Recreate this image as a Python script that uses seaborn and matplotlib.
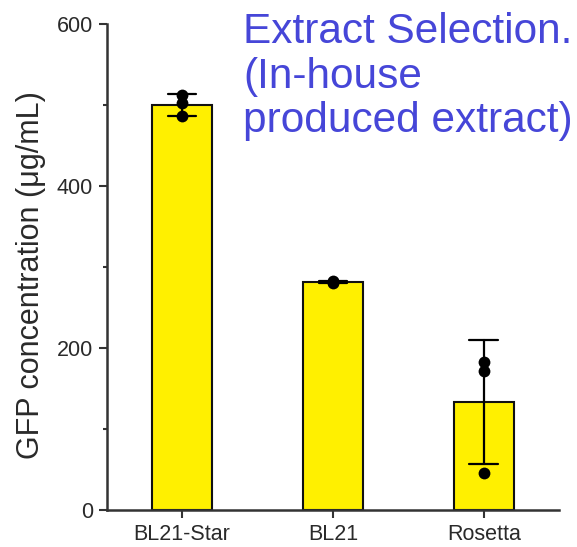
import matplotlib
matplotlib.use("Agg")
import matplotlib.pyplot as plt
from matplotlib.ticker import MultipleLocator
import numpy as np
import pandas as pd
import seaborn as sns

# Replicate GFP measurements per extract strain (µg/mL)
strains = ["BL21-Star", "BL21", "Rosetta"]
bl21_star = [512, 486, 502]
bl21 = [283, 280, 282]
rosetta = [182, 172, 45]

df = pd.DataFrame({
    "strain": np.repeat(strains, 3),
    "gfp": bl21_star + bl21 + rosetta,
})

sns.set_theme(style="ticks")
plt.rcParams["font.family"] = ["Liberation Sans", "DejaVu Sans"]

fig = plt.figure(figsize=(5.77, 5.47), dpi=100)
ax = fig.add_axes([0.185, 0.068, 0.784, 0.888])

sns.barplot(data=df, x="strain", y="gfp", order=strains, errorbar="sd",
            width=0.4, color="#FFF000", edgecolor="#111111", linewidth=1.5,
            capsize=0.19, err_kws={"color": "black", "linewidth": 1.6},
            saturation=1, ax=ax)
sns.stripplot(data=df, x="strain", y="gfp", order=strains, jitter=False,
              color="black", size=8.5, ax=ax, zorder=5)

ax.set_xlim(-0.5, 2.5)
ax.set_ylim(0, 600)
ax.yaxis.set_major_locator(MultipleLocator(200))
ax.yaxis.set_minor_locator(MultipleLocator(100))
for s in ["top", "right"]:
    ax.spines[s].set_visible(False)
for s in ["left", "bottom"]:
    ax.spines[s].set_linewidth(1.8)
    ax.spines[s].set_color("#333333")
ax.tick_params(axis="both", which="major", length=6, width=1.5,
               color="#333333", labelsize=15.5, labelcolor="#2a2a2a", pad=4)
ax.tick_params(axis="y", which="minor", length=3, width=1.5, color="#333333")
ax.set_xlabel("")
ax.set_ylabel("GFP concentration (\u03bcg/mL)", fontsize=22, color="#2a2a2a")
ax.yaxis.set_label_coords(-0.135, 0.484)

fig.text(0.421, 0.978, "Extract Selection.\n(In-house\nproduced extract)",
         ha="left", va="top", fontsize=30.5, color="#4646D8",
         linespacing=1.15, family=["Liberation Sans", "DejaVu Sans"])

fig.savefig("out.png", dpi=100)
